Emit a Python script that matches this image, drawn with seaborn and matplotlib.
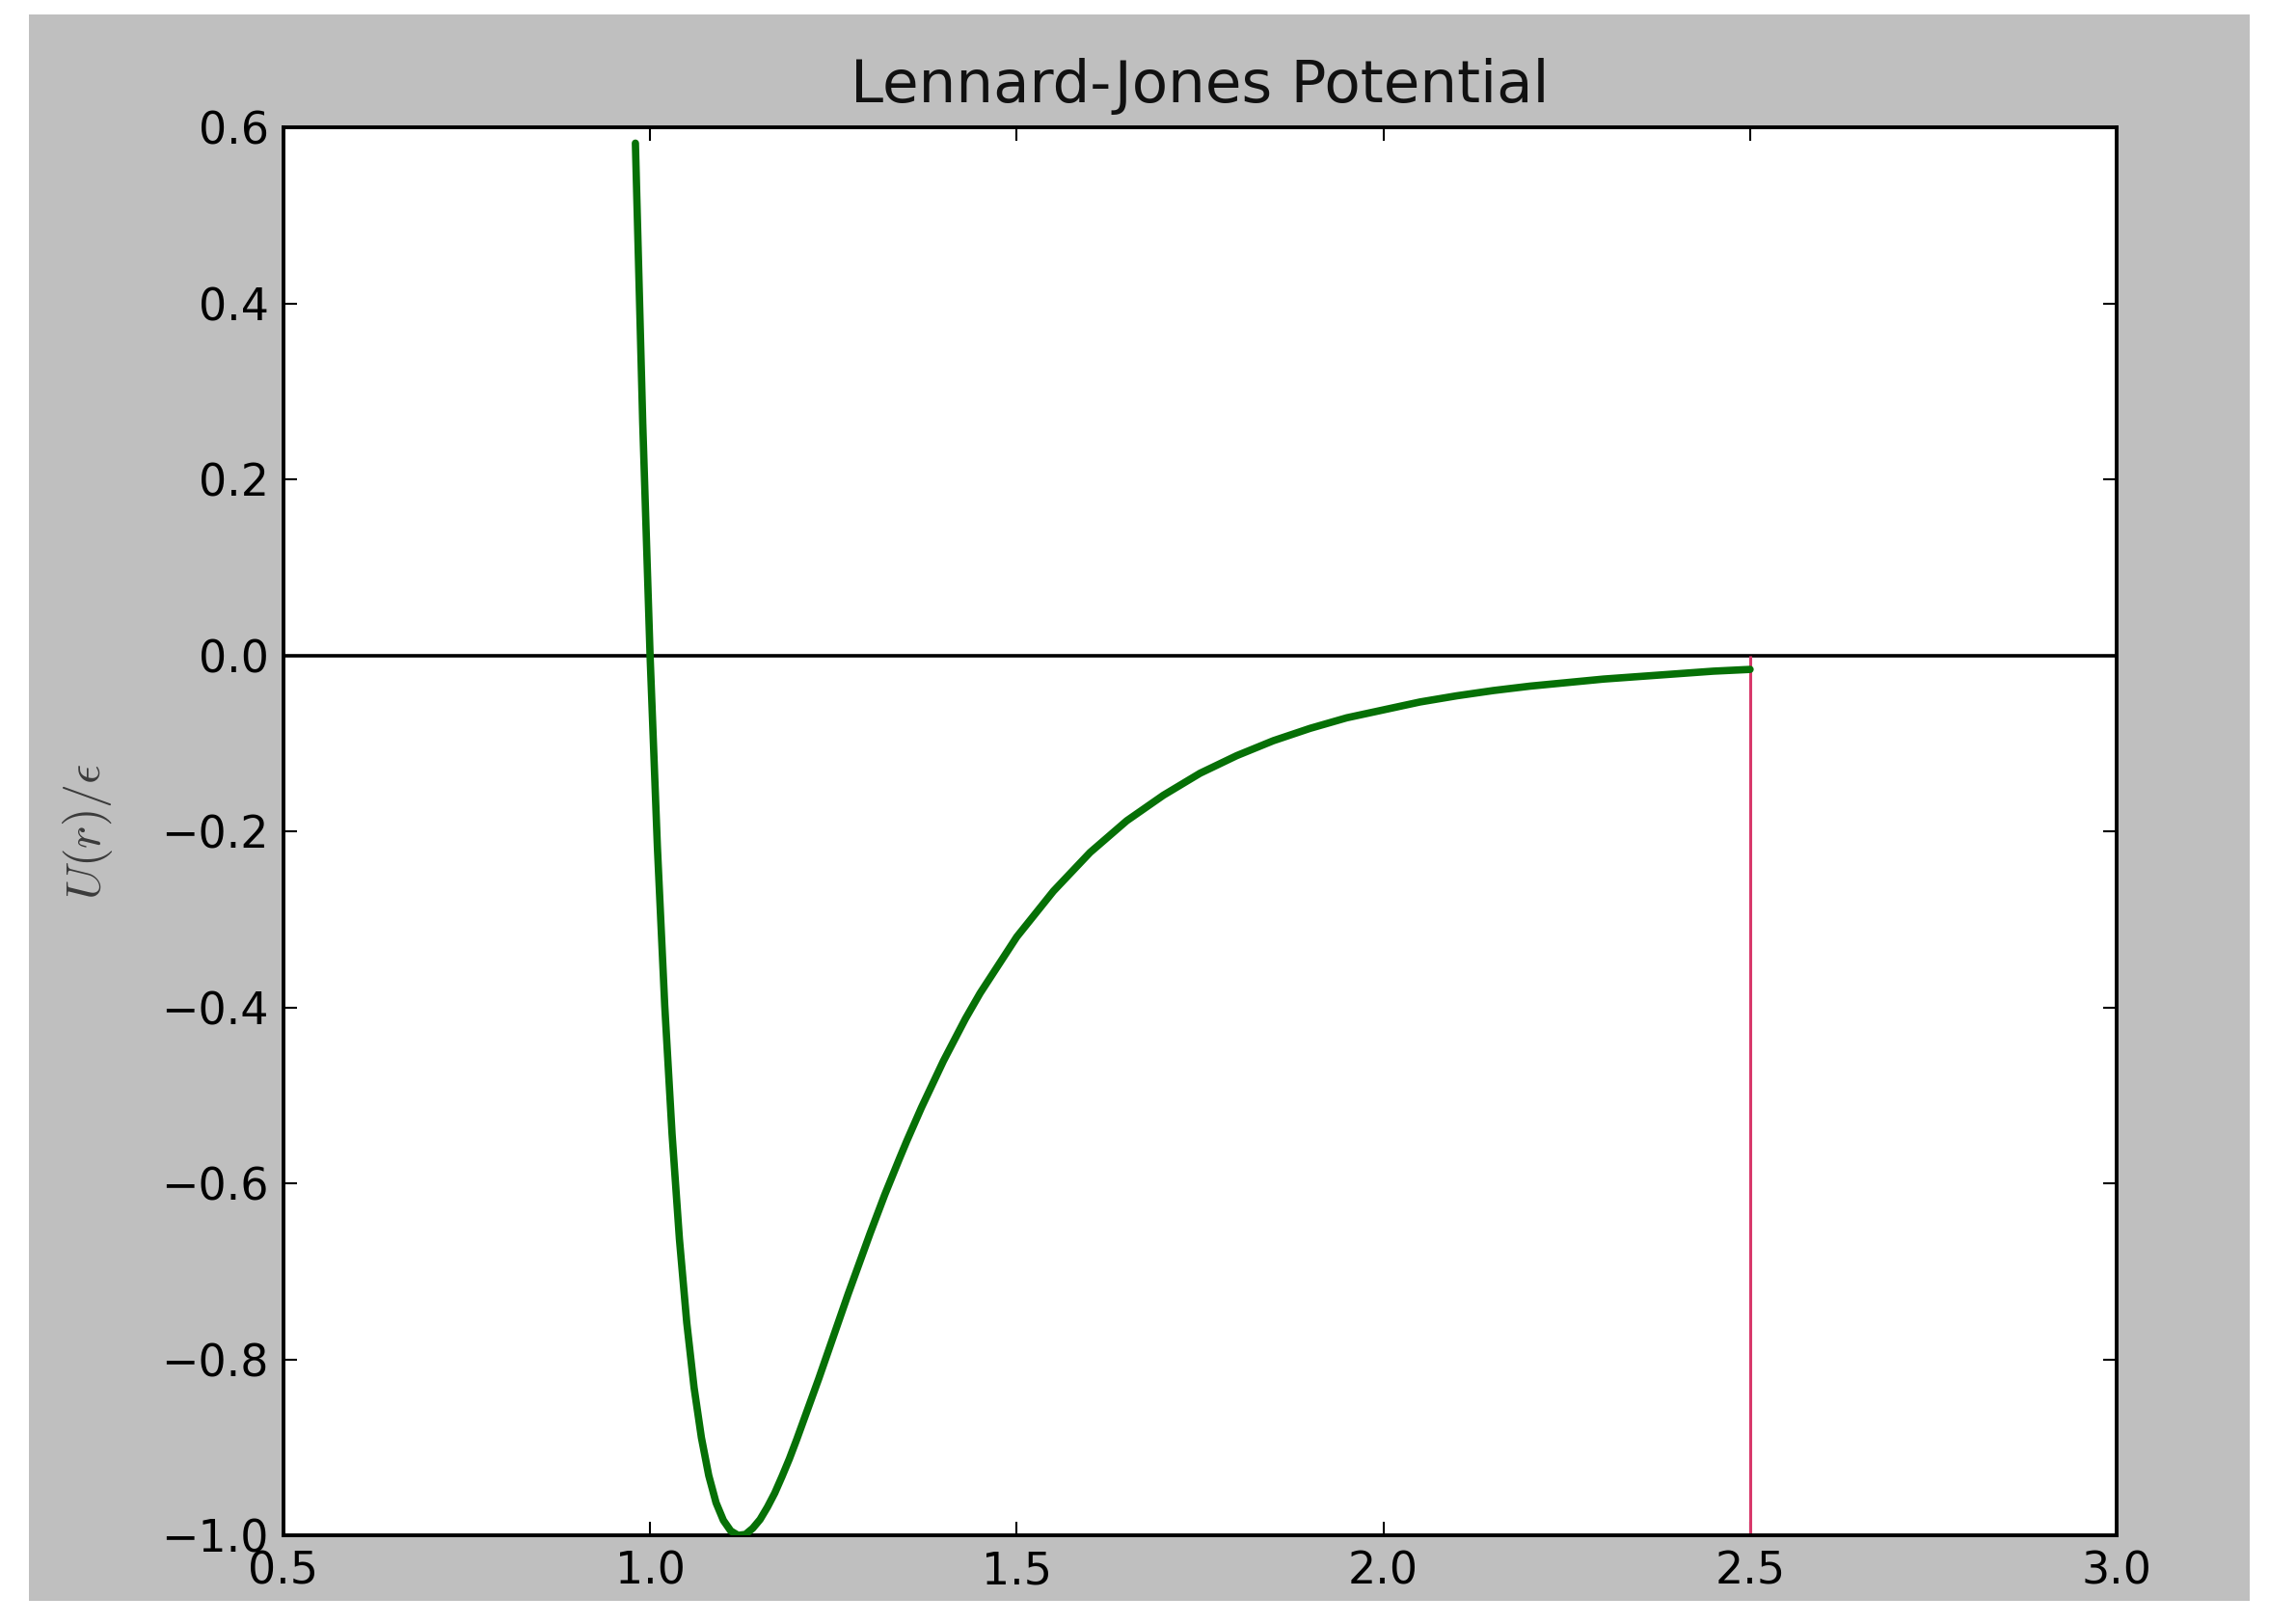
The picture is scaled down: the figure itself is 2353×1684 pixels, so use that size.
import matplotlib
matplotlib.use("Agg")
import matplotlib.pyplot as plt
import seaborn as sns
from matplotlib.patches import Rectangle

# values
r_vals = [0.98, 0.99, 1.00, 1.01, 1.02, 1.03, 1.04, 1.05, 1.06, 1.07, 1.08, 1.09,
          1.10, 1.11, 1.12, 1.13, 1.14, 1.15, 1.16, 1.17, 1.18, 1.19, 1.20, 1.21,
          1.22, 1.23, 1.24, 1.25, 1.26, 1.27, 1.28, 1.30, 1.32, 1.34, 1.35, 1.37,
          1.40, 1.43, 1.45, 1.50, 1.55, 1.60, 1.65, 1.70, 1.75, 1.80, 1.85, 1.90,
          1.95, 2.00, 2.05, 2.10, 2.15, 2.20, 2.25, 2.30, 2.35, 2.40, 2.45, 2.50]
u_vals = [0.582, 0.264, 0.000, -0.218, -0.398, -0.544, -0.663, -0.758, -0.832, -0.889,
          -0.932, -0.963, -0.983, -0.995, -1.000, -0.999, -0.992, -0.982, -0.968, -0.952,
          -0.933, -0.913, -0.891, -0.868, -0.845, -0.822, -0.798, -0.774, -0.750, -0.726,
          -0.703, -0.657, -0.613, -0.572, -0.552, -0.514, -0.461, -0.413, -0.384, -0.320,
          -0.268, -0.224, -0.188, -0.159, -0.134, -0.114, -0.097, -0.083, -0.071, -0.062,
          -0.053, -0.046, -0.040, -0.035, -0.031, -0.027, -0.024, -0.021, -0.018, -0.016]
r_cut = 2.5
x_ticks = [0.5, 1.0, 1.5, 2.0, 2.5, 3.0]
y_ticks = [-1.0, -0.8, -0.6, -0.4, -0.2, 0.0, 0.2, 0.4, 0.6]

sns.set_theme(style="ticks")
plt.rcParams["font.family"] = ["DejaVu Sans"]
plt.rcParams["mathtext.fontset"] = "cm"
plt.rcParams["axes.unicode_minus"] = True

fig = plt.figure(figsize=(23.53, 16.84), dpi=100, facecolor="white")
# grey frame like the old classic style
fig.patches.append(Rectangle((0.01275, 0.01425), 0.97875, 0.97685,
                             transform=fig.transFigure, facecolor="#bfbfbf",
                             edgecolor="none", zorder=-1))
ax = fig.add_axes([0.1249, 0.0546, 0.808, 0.867])
ax.set_facecolor("white")

sns.lineplot(x=r_vals, y=u_vals, color="#067006", linewidth=5.5, ax=ax, zorder=3)
ax.axhline(0, color="black", linewidth=2.6, zorder=2)
ax.vlines(r_cut, y_ticks[0], 0, color="#d8386a", linewidth=2.2, zorder=2)

ax.set_xlim(x_ticks[0], x_ticks[-1])
ax.set_ylim(y_ticks[0], y_ticks[-1])
ax.set_xticks(x_ticks)
ax.set_yticks(y_ticks)
ax.set_xticklabels([f"{v:.1f}" for v in x_ticks])
ax.set_yticklabels([f"{v:.1f}".replace("-", "\u2212") for v in y_ticks])
ax.tick_params(direction="in", length=10, width=1.5, labelsize=33, pad=11,
               top=True, right=True, colors="black")

for sp in ax.spines.values():
    sp.set_visible(True)
    sp.set_color("black")
    sp.set_linewidth(2.8)

ax.set_title("Lennard-Jones Potential", fontsize=44, pad=19, color="#111111")
ax.set_ylabel(r"$U(r)/\epsilon$", fontsize=36, color="#3a3a3a")
ax.yaxis.set_label_coords(-0.092, 0.5)

fig.savefig("out.png", dpi=100, facecolor="white")
